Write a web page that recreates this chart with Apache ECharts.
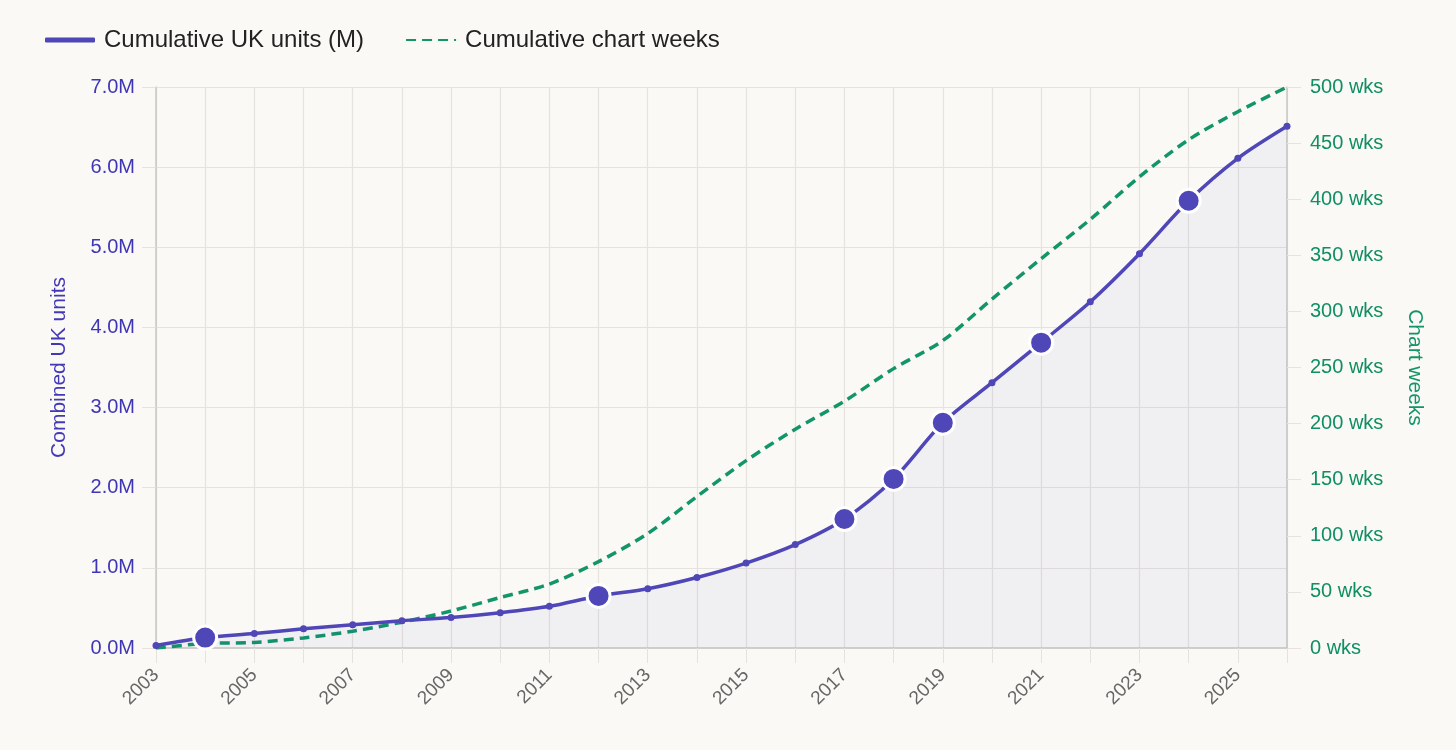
<!DOCTYPE html>
<html>
<head>
<meta charset="utf-8">
<script src="https://cdn.jsdelivr.net/npm/echarts@6/dist/echarts.min.js"></script>
<style>
html,body{margin:0;padding:0;background:#FAF9F5;}
#c{width:1456px;height:750px;}
</style>
</head>
<body>
<div id="c"></div>
<script>
const years = ['2003','2004','2005','2006','2007','2008','2009','2010','2011','2012','2013','2014','2015','2016','2017','2018','2019','2020','2021','2022','2023','2024','2025','2026'];
const unitsM = [0.03,0.13,0.18,0.24,0.29,0.34,0.38,0.44,0.52,0.65,0.74,0.88,1.06,1.29,1.61,2.11,2.81,3.31,3.81,4.32,4.92,5.58,6.11,6.51];
const chartWeeks = [0,4,5,9,15,23,33,45,57,77,102,135,167,195,220,249,274,311,347,382,420,453,478,500];
const highlightYears = ['2004','2012','2017','2018','2019','2021','2024'];
const leftTicks = {min:0, max:7, interval:1};
const rightTicks = {min:0, max:500, interval:50};

const PURPLE = '#4F46B8';
const GREEN = '#13956A';
const GRID = '#E6E3DF';
const FONT = 'Liberation Sans, Arial, sans-serif';

const unitsData = unitsM.map((v,i)=>{
  const big = highlightYears.indexOf(years[i]) >= 0;
  return big ? {value:v, symbolSize:23, itemStyle:{color:PURPLE, borderColor:'#fff', borderWidth:3}} : {value:v};
});

const chart = echarts.init(document.getElementById('c'));
chart.setOption({
  backgroundColor:'#FAF9F5',
  animation:false,
  textStyle:{fontFamily:FONT},
  legend:{
    left:40, top:23, itemWidth:50, itemHeight:5, itemGap:41,
    textStyle:{fontSize:24, color:'#222', fontFamily:FONT, padding:[0,0,0,4]},
    data:[
      {name:'Cumulative UK units (M)', icon:'roundRect', itemStyle:{color:PURPLE}},
      {name:'Cumulative chart weeks', itemStyle:{opacity:0}}
    ]
  },
  grid:{left:156, right:169, top:87, bottom:102},
  xAxis:{
    type:'category', data:years, boundaryGap:false,
    axisLine:{lineStyle:{color:'#C9C7C4', width:1.5}},
    axisTick:{show:true, interval:0, length:15, lineStyle:{color:GRID}},
    axisLabel:{interval:1, rotate:45, color:'#666', fontSize:19, margin:24},
    splitLine:{show:true, interval:0, lineStyle:{color:GRID, width:1.2}}
  },
  yAxis:[
    {
      type:'value', min:leftTicks.min, max:leftTicks.max, interval:leftTicks.interval, position:'left',
      name:'Combined UK units', nameLocation:'middle', nameGap:86,
      nameTextStyle:{color:'#4338B8', fontSize:21},
      axisLine:{show:true, lineStyle:{color:'#C9C7C4', width:1.5}},
      axisTick:{show:true, length:14, lineStyle:{color:GRID}},
      axisLabel:{color:'#3F36B5', fontSize:20, margin:21, formatter:v=>v.toFixed(1)+'M'},
      splitLine:{lineStyle:{color:GRID, width:1.2}}
    },
    {
      type:'value', min:rightTicks.min, max:rightTicks.max, interval:rightTicks.interval, position:'right',
      name:'Chart weeks', nameLocation:'middle', nameGap:117, nameRotate:-90,
      nameTextStyle:{color:GREEN, fontSize:21},
      axisLine:{show:true, lineStyle:{color:'#C9C7C4', width:1.5}},
      axisTick:{show:true, length:14, lineStyle:{color:GRID}},
      axisLabel:{color:'#0F8F63', fontSize:20, margin:23, formatter:v=>v+' wks'},
      splitLine:{show:false}
    }
  ],
  series:[
    {
      name:'Cumulative UK units (M)', type:'line', yAxisIndex:0, data:unitsData,
      smooth:0.3, symbol:'circle', symbolSize:7, showAllSymbol:true,
      lineStyle:{color:PURPLE, width:3.5},
      itemStyle:{color:PURPLE},
      areaStyle:{color:'rgba(79,70,184,0.08)'},
      z:3
    },
    {
      name:'Cumulative chart weeks', type:'line', yAxisIndex:1, data:chartWeeks,
      smooth:0.3, symbol:'none',
      lineStyle:{color:GREEN, width:3.5, type:[10,6]},
      itemStyle:{color:GREEN},
      z:2
    }
  ]
});
</script>
</body>
</html>
